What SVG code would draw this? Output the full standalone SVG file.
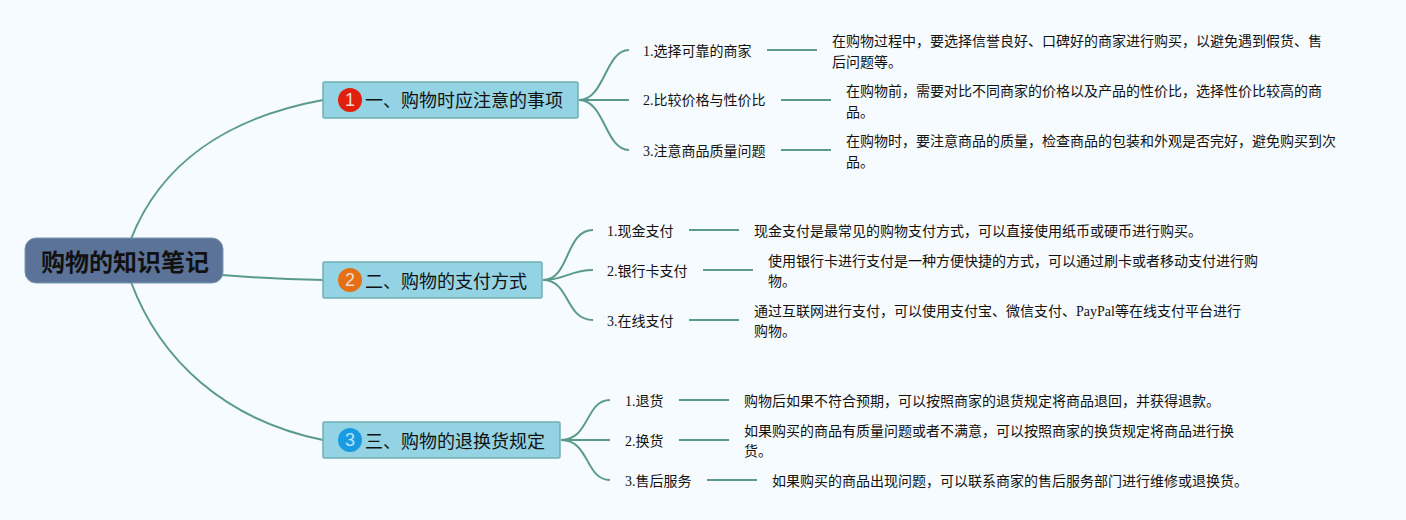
<svg xmlns="http://www.w3.org/2000/svg" width="1406" height="520" viewBox="0 0 1406 520">
<style>
text{font-family:"Liberation Serif","Noto Sans CJK SC",serif;fill:#111}
.leaf{font-size:14px}
.desc{font-size:14px}
.br{font-size:18px}
.root{font-size:24px;font-weight:700;font-family:"Noto Sans CJK SC",sans-serif}
.box{fill:#93d3e4;stroke:#6fb0b4;stroke-width:1.5}
.num{font-family:"Liberation Sans",sans-serif;font-size:18px;fill:#f0dcd0;text-anchor:middle}
#connectors path{fill:none;stroke:#5a9a8c;stroke-width:2}
</style>
<rect width="1406" height="520" fill="#f5fbff"/>
<g id="connectors">
<path d="M131 239C160 165 225 118 323 100"/>
<path d="M222 275Q270 279 323 280"/>
<path d="M131 282C160 360 225 420 323 440"/>
<path d="M579 100C605 100 605 50 629 50"/>
<path d="M579 100H629"/>
<path d="M579 100C605 100 605 150 629 150"/>
<path d="M767 50H817"/><path d="M781 100H831"/><path d="M781 150H831"/>
<path d="M543 280C570 280 565 230 593 230"/>
<path d="M543 280C565 280 570 270 593 270"/>
<path d="M543 280C570 280 565 320 593 320"/>
<path d="M689 230H739"/><path d="M703 270H753"/><path d="M689 320H739"/>
<path d="M561 440C590 440 585 400 610 400"/>
<path d="M561 440H610"/>
<path d="M561 440C590 440 585 480 610 480"/>
<path d="M679 400H729"/><path d="M679 440H729"/><path d="M707 480H757"/>
</g>
<g id="root"><rect x="25" y="238" width="198" height="45" rx="11" fill="#5b7399" stroke="#7a9ab0" stroke-width="1"/><text class="root" x="41" y="271">购物的知识笔记</text></g>
<g id="branch1"><rect class="box" x="323" y="82" width="255" height="36" rx="1.5"/><circle cx="350" cy="100" r="12" fill="#e0200c"/><text class="num" x="350" y="106">1</text><text class="br" x="365" y="107">一、购物时应注意的事项</text></g>
<g id="branch2"><rect class="box" x="323" y="262" width="219" height="36" rx="1.5"/><circle cx="350" cy="280" r="12" fill="#e56f14"/><text class="num" x="350" y="286">2</text><text class="br" x="365" y="288">二、购物的支付方式</text></g>
<g id="branch3"><rect class="box" x="323" y="422" width="237" height="36" rx="1.5"/><circle cx="350" cy="440" r="12" fill="#1a9ae0"/><text class="num" x="350" y="446" style="fill:#bfe4f8">3</text><text class="br" x="365" y="448">三、购物的退换货规定</text></g>
<g id="l11"><text class="leaf" x="643" y="56">1.选择可靠的商家</text></g>
<g id="l12"><text class="leaf" x="643" y="105">2.比较价格与性价比</text></g>
<g id="l13"><text class="leaf" x="643" y="156">3.注意商品质量问题</text></g>
<g id="d11"><text class="desc" x="832" y="46">在购物过程中，要选择信誉良好、口碑好的商家进行购买，以避免遇到假货、售</text><text class="desc" x="832" y="67">后问题等。</text></g>
<g id="d12"><text class="desc" x="846" y="96">在购物前，需要对比不同商家的价格以及产品的性价比，选择性价比较高的商</text><text class="desc" x="846" y="117">品。</text></g>
<g id="d13"><text class="desc" x="846" y="146">在购物时，要注意商品的质量，检查商品的包装和外观是否完好，避免购买到次</text><text class="desc" x="846" y="167">品。</text></g>
<g id="l21"><text class="leaf" x="607" y="236">1.现金支付</text></g>
<g id="l22"><text class="leaf" x="607" y="276">2.银行卡支付</text></g>
<g id="l23"><text class="leaf" x="607" y="326">3.在线支付</text></g>
<g id="d21"><text class="desc" x="754" y="236">现金支付是最常见的购物支付方式，可以直接使用纸币或硬币进行购买。</text></g>
<g id="d22"><text class="desc" x="768" y="266">使用银行卡进行支付是一种方便快捷的方式，可以通过刷卡或者移动支付进行购</text><text class="desc" x="768" y="286">物。</text></g>
<g id="d23"><text class="desc" x="754" y="316">通过互联网进行支付，可以使用支付宝、微信支付、PayPal等在线支付平台进行</text><text class="desc" x="754" y="336">购物。</text></g>
<g id="l31"><text class="leaf" x="625" y="406">1.退货</text></g>
<g id="l32"><text class="leaf" x="625" y="446">2.换货</text></g>
<g id="l33"><text class="leaf" x="625" y="486">3.售后服务</text></g>
<g id="d31"><text class="desc" x="744" y="406">购物后如果不符合预期，可以按照商家的退货规定将商品退回，并获得退款。</text></g>
<g id="d32"><text class="desc" x="744" y="436">如果购买的商品有质量问题或者不满意，可以按照商家的换货规定将商品进行换</text><text class="desc" x="744" y="456">货。</text></g>
<g id="d33"><text class="desc" x="772" y="486">如果购买的商品出现问题，可以联系商家的售后服务部门进行维修或退换货。</text></g>
</svg>
